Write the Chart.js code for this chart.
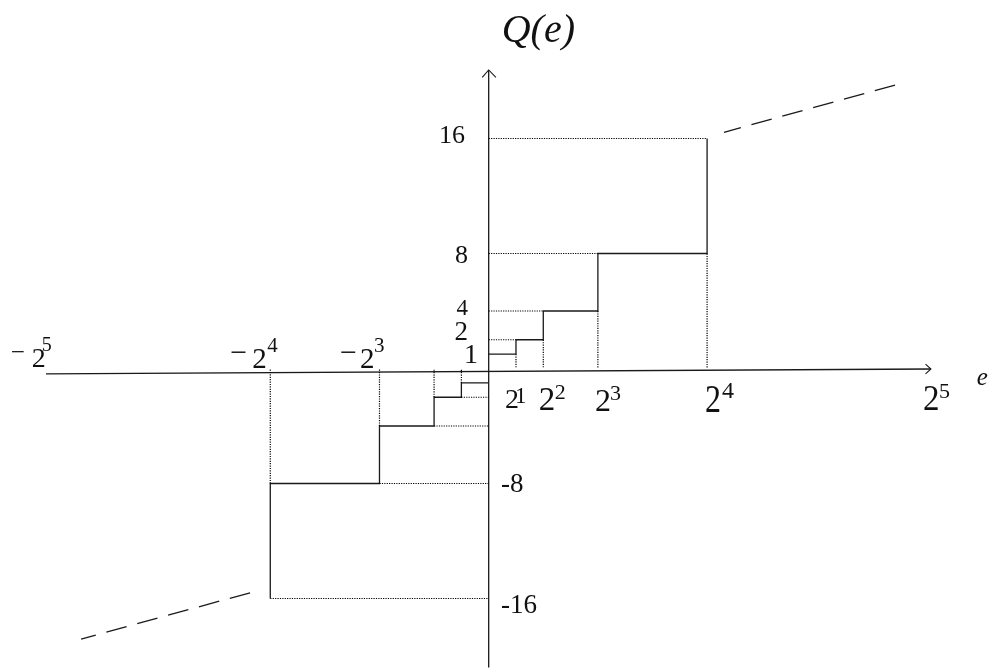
<!DOCTYPE html>
<html>
<head>
<meta charset="utf-8">
<style>
  body { margin: 0; background: #fff; }
  canvas { display: block; }
</style>
<script src="https://cdn.jsdelivr.net/npm/chart.js@4"></script>
</head>
<body>
<canvas id="chart" width="996" height="671"></canvas>
<script>
// quantizer staircase, positive and negative branch
const stepUp = [
    {x: 0, y: 1}, {x: 2, y: 1}, {x: 2, y: 2}, {x: 4, y: 2}, {x: 4, y: 4},
    {x: 8, y: 4}, {x: 8, y: 8}, {x: 16, y: 8}, {x: 16, y: 16}
];
const stepDown = [
    {x: 0, y: -1}, {x: -2, y: -1}, {x: -2, y: -2}, {x: -4, y: -2}, {x: -4, y: -4},
    {x: -8, y: -4}, {x: -8, y: -8}, {x: -16, y: -8}, {x: -16, y: -16}
];

// dotted helper lines, one pair of points each
const guides = [
    [[0, 2], [2, 2]], [[0, 4], [4, 4]], [[0, 8], [8, 8]], [[0, 16], [16, 16]],
    [[2, 1], [2, 0]], [[4, 2], [4, 0]], [[8, 4], [8, 0]], [[16, 8], [16, 0]],
    [[-2, -2], [0, -2]], [[-4, -4], [0, -4]], [[-8, -8], [0, -8]], [[-16, -16], [0, -16]],
    [[-2, -1], [-2, 0]], [[-4, -2], [-4, 0]], [[-8, -4], [-8, 0]], [[-16, -8], [-16, 0]]
];

// dashed overload tails (drawn from outer end inward)
const tailUp = [{x: 29.77, y: 19.72}, {x: 17.24, y: 16.43}];
const tailDown = [{x: -17.48, y: -15.6}, {x: -29.86, y: -18.82}];

// axes
const xAxisLine = [{x: -32.43, y: -0.38}, {x: 32.4, y: -0.035}];
const xArrow = [{x: 32.0, y: 0.31}, {x: 32.4, y: -0.035}, {x: 32.0, y: -0.38}];
const yAxisLine = [{x: 0, y: 20.77}, {x: 0, y: -20.8}];
const yArrow = [{x: -0.47, y: 20.26}, {x: 0, y: 20.77}, {x: 0.53, y: 20.26}];

// tick labels
const yTicks = [16, 8, 4, 2, 1, -8, -16];
const yTickText = ['16', '8', '4', '2', '1', '-8', '-16'];
const xTicks = [2, 4, 8, 16, 32, -16, -8, -32];
const xTickExp = ['1', '2', '3', '4', '5', '4', '3', '5'];

const titleText = 'Q(e)';
const xName = 'e';

function joinSegments(list) {
    let out = [];
    list.forEach((seg, i) => {
        if (i > 0) out.push({x: null, y: null});
        seg.forEach(p => out.push({x: p[0], y: p[1]}));
    });
    return out;
}

function lineSet(data, opts) {
    return Object.assign({
        data: data,
        showLine: true,
        borderColor: '#1a1a1a',
        borderWidth: 1.3,
        pointRadius: 0,
        fill: false,
        tension: 0,
        spanGaps: false,
        clip: false
    }, opts || {});
}

// label placement, offsets in px from the tick position
const yLabelLayout = [
    {dx: -23.7, dy: 4.5, size: 26, align: 'right'},
    {dx: -20.7, dy: 9.5, size: 26, align: 'right'},
    {dx: -20.7, dy: 4, size: 23, align: 'right'},
    {dx: -20.7, dy: 0.3, size: 27, align: 'right'},
    {dx: -10.7, dy: 9, size: 28, align: 'right'},
    {dx: 12.3, dy: 8.5, size: 27, align: 'left'},
    {dx: 12.3, dy: 14.5, size: 27, align: 'left'}
];
// base "2" and exponent, plus an optional minus sign
const xLabelLayout = [
    {bx: -11, by: 39.5, bs: 28, bsy: 1, ex: -1, ey: 34.5, es: 23},
    {bx: -4.5, by: 41.5, bs: 33, bsy: 1, ex: 11.5, ey: 30.5, es: 22},
    {bx: -3, by: 42.5, bs: 32, bsy: 1, ex: 12, ey: 31.5, es: 22},
    {bx: -2, by: 43.5, bs: 32, bsy: 1.25, ex: 15, ey: 29.5, es: 24},
    {bx: -2.5, by: 41.5, bs: 33, bsy: 1.1, ex: 13.5, ey: 29.5, es: 22},
    {mx: -40, my: -6.5, ms: 30, bx: -18, by: -0.5, bs: 29, bsy: 1, ex: -3, ey: -16.5, es: 21},
    {mx: -39.5, my: -6.5, ms: 30, bx: -19.5, by: -0.5, bs: 29, bsy: 1, ex: -5.5, ey: -16.5, es: 21},
    {mx: -41, my: -8.5, ms: 25, bx: -20, by: -1.5, bs: 28, bsy: 1, ex: -10, ey: -17.5, es: 20}
];

function put(ctx, text, x, y, size, opts) {
    opts = opts || {};
    ctx.save();
    ctx.font = (opts.italic ? 'italic ' : '') + size + 'px "Liberation Serif", "DejaVu Serif", serif';
    ctx.textAlign = opts.align || 'left';
    ctx.textBaseline = 'alphabetic';
    ctx.fillStyle = '#111';
    ctx.translate(x, y);
    ctx.scale(1, opts.sy || 1);
    ctx.fillText(text, 0, 0);
    ctx.restore();
}

const textPlugin = {
    id: 'diagramText',
    afterDraw(chart) {
        const ctx = chart.ctx;
        const xs = chart.scales.x;
        const ys = chart.scales.y;
        const x0 = xs.getPixelForValue(0);
        const y0 = ys.getPixelForValue(0);

        yTicks.forEach((v, i) => {
            const l = yLabelLayout[i];
            put(ctx, yTickText[i], x0 + l.dx, ys.getPixelForValue(v) + l.dy, l.size, {align: l.align});
        });

        xTicks.forEach((v, i) => {
            const l = xLabelLayout[i];
            const px = xs.getPixelForValue(v);
            if (v < 0) put(ctx, '\u2212', px + l.mx, y0 + l.my, l.ms);
            put(ctx, '2', px + l.bx, y0 + l.by, l.bs, {sy: l.bsy});
            put(ctx, xTickExp[i], px + l.ex, y0 + l.ey, l.es);
        });

        put(ctx, titleText, x0 + 13, 42, 40, {italic: true});
        put(ctx, xName, x0 + 488, y0 + 16.5, 25, {italic: true});
    }
};

let chart = new Chart(
    document.getElementById('chart'),
    {
        type: 'scatter',
        data: {
            datasets: [
                lineSet(joinSegments(guides), {borderWidth: 1.2, borderDash: [1.2, 1.2], borderColor: '#000'}),
                lineSet(xAxisLine),
                lineSet(xArrow, {borderWidth: 1.1}),
                lineSet(yAxisLine),
                lineSet(yArrow, {borderWidth: 1.1}),
                lineSet(stepUp),
                lineSet(stepDown),
                lineSet(tailUp, {borderDash: [21, 11]}),
                lineSet(tailDown, {borderDash: [21, 11]})
            ]
        },
        options: {
            responsive: false,
            animation: false,
            devicePixelRatio: 1,
            layout: {padding: 0},
            plugins: {
                legend: {display: false},
                tooltip: {enabled: false}
            },
            scales: {
                x: {type: 'linear', display: false, min: -35.8, max: 37.165},
                y: {type: 'linear', display: false, min: -21.043, max: 25.635}
            }
        },
        plugins: [textPlugin]
    }
);
</script>
</body>
</html>
